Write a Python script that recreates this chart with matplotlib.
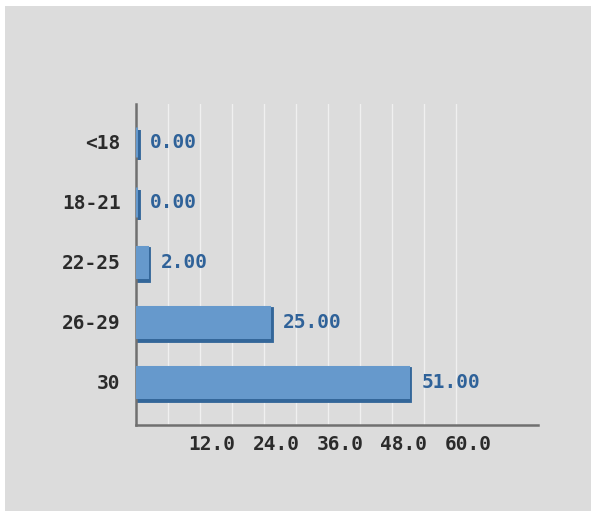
import matplotlib
matplotlib.use("Agg")
import matplotlib.pyplot as plt
from matplotlib.transforms import ScaledTranslation
from matplotlib.patches import Rectangle

categories = ["<18", "18-21", "22-25", "26-29", "30"]
values = [0, 0, 2, 25, 51]
grid_ticks = [6, 12, 18, 24, 30, 36, 42, 48, 54, 60]
label_ticks = [12, 24, 36, 48, 60]

bg = "#dcdcdc"
face = "#6699cc"
dark = "#336699"
font = "DejaVu Sans Mono"

fig = plt.figure(figsize=(5.91, 5.11), dpi=100, facecolor="white")
fig.patches.append(Rectangle((5 / 591, 0), 1, 1 - 6 / 511, transform=fig.transFigure,
                             facecolor=bg, edgecolor="none", zorder=-10))
ax = fig.add_axes([136 / 591, 1 - 425 / 511, 402 / 591, 321 / 511])
ax.set_facecolor(bg)
ax.set_xlim(0, 75.4)
ax.set_ylim(4.717, -0.633)

for g in grid_ticks:
    ax.axvline(g, color="#f0f0f0", lw=1.0, zorder=0)

ypos = list(range(len(categories)))
# darker "depth" behind each bar, sticking out on the right and bottom
shift = ScaledTranslation(1.5 / 100, -3 / 100, fig.dpi_scale_trans)
ax.barh(ypos, values, height=0.5, color=dark, edgecolor=dark, lw=4.2,
        transform=ax.transData + shift, zorder=2)
ax.barh(ypos, values, height=0.5, color=face, edgecolor=face, lw=2.2, zorder=3)

for y, v in zip(ypos, values):
    ax.annotate(f"{v:.2f}", (v, y), xytext=(14, -1), textcoords="offset pixels",
                ha="left", va="center", fontsize=14, fontweight="bold",
                family=font, color="#2f6299", zorder=4)

ax.set_yticks(ypos)
ax.set_yticklabels(categories, fontsize=14, fontweight="bold", family=font, color="#2b2b2b")
ax.tick_params(axis="y", length=0, pad=11)
ax.set_xticks([])
for t in label_ticks:
    ax.text(t, -0.03, f"{t:.1f}", transform=ax.get_xaxis_transform() +
            ScaledTranslation(12 / 100, 0, fig.dpi_scale_trans),
            ha="center", va="top", fontsize=14, fontweight="bold",
            family=font, color="#2b2b2b")

for s in ["top", "right"]:
    ax.spines[s].set_visible(False)
for s in ["left", "bottom"]:
    ax.spines[s].set_color("#707070")
    ax.spines[s].set_linewidth(1.8)

fig.savefig("out.png", dpi=100, facecolor="white")
